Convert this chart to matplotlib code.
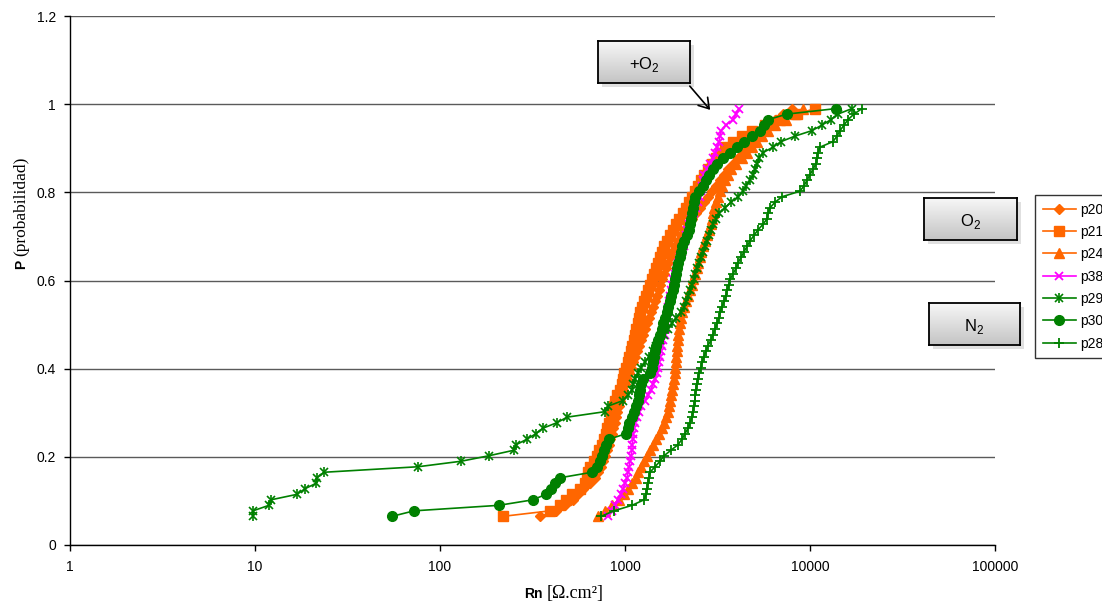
import matplotlib
matplotlib.use("Agg")
import matplotlib.pyplot as plt
import numpy as np
from matplotlib.colors import LinearSegmentedColormap
from matplotlib.legend_handler import HandlerTuple

plt.rcParams['font.family'] = ['Liberation Sans', 'DejaVu Sans']
plt.rcParams['mathtext.fontset'] = 'custom'
plt.rcParams['mathtext.rm'] = 'Liberation Sans'

# cumulative probability (same for every series)
prob = [0.065, 0.0775, 0.09, 0.1025, 0.115, 0.1275, 0.14, 0.1525, 0.165, 0.1775,
        0.19, 0.2025, 0.215, 0.2275, 0.24, 0.2525, 0.265, 0.2775, 0.29, 0.3025,
        0.315, 0.3275, 0.34, 0.3525, 0.365, 0.3775, 0.39, 0.4025, 0.415, 0.4275,
        0.44, 0.4525, 0.465, 0.4775, 0.49, 0.5025, 0.515, 0.5275, 0.54, 0.5525,
        0.565, 0.5775, 0.59, 0.6025, 0.615, 0.6275, 0.64, 0.6525, 0.665, 0.6775,
        0.69, 0.7025, 0.715, 0.7275, 0.74, 0.7525, 0.765, 0.7775, 0.79, 0.8025,
        0.815, 0.8275, 0.84, 0.8525, 0.865, 0.8775, 0.89, 0.9025, 0.915, 0.9275,
        0.94, 0.9525, 0.965, 0.9775, 0.99]

# Rn values [ohm.cm2]
p20 = [347, 424, 474, 523, 557, 593, 647, 688, 715, 742, 760, 780, 799, 819, 830,
       851, 861, 883, 894, 905, 928, 940, 951, 975, 1000, 1025, 1051, 1078, 1105, 1133,
       1161, 1190, 1220, 1251, 1283, 1315, 1348, 1382, 1417, 1453, 1489, 1527, 1546, 1585, 1625,
       1666, 1708, 1751, 1795, 1863, 1934, 2008, 2084, 2191, 2302, 2420, 2544, 2673, 2810, 2953,
       3104, 3262, 3429, 3602, 3833, 4081, 4343, 4621, 4918, 5234, 5570, 5929, 6463, 7134, 7976]
p21 = [219, 393, 445, 480, 517, 571, 608, 623, 631, 647, 680, 706, 724, 751, 770,
       789, 799, 819, 840, 851, 872, 883, 905, 940, 963, 975, 988, 1012, 1038, 1051,
       1078, 1091, 1119, 1133, 1147, 1176, 1190, 1205, 1236, 1267, 1299, 1331, 1365, 1399, 1434,
       1471, 1508, 1546, 1585, 1625, 1687, 1751, 1818, 1887, 1958, 2058, 2137, 2218, 2302, 2390,
       2481, 2575, 2673, 2810, 2953, 3104, 3262, 3471, 3833, 4289, 4857, 5710, 6878, 8497, 10640]
p24 = [715, 780, 851, 928, 988, 1038, 1091, 1147, 1176, 1220, 1267, 1315, 1365, 1417, 1471,
       1527, 1585, 1625, 1666, 1708, 1729, 1751, 1773, 1795, 1818, 1840, 1863, 1863, 1887, 1887,
       1910, 1910, 1934, 1934, 1958, 1983, 2008, 2033, 2084, 2137, 2191, 2246, 2302, 2331, 2390,
       2450, 2481, 2544, 2575, 2640, 2707, 2775, 2845, 2916, 2953, 2990, 3027, 3104, 3182, 3262,
       3344, 3471, 3602, 3739, 3981, 4289, 4564, 4857, 5169, 5501, 5929, 6463, 7407, 8288, 9151]
p38 = [809, 851, 883, 917, 951, 975, 1000, 1025, 1038, 1051, 1064, 1078, 1091, 1091, 1105,
       1105, 1119, 1133, 1161, 1190, 1220, 1283, 1331, 1382, 1417, 1453, 1490, 1508, 1527, 1546,
       1566, 1585, 1605, 1646, 1666, 1687, 1687, 1708, 1708, 1729, 1751, 1773, 1795, 1818, 1864,
       1911, 1934, 1984, 2033, 2085, 2110, 2138, 2165, 2218, 2274, 2360, 2419, 2480, 2544, 2575,
       2608, 2640, 2673, 2775, 2880, 2990, 3066, 3143, 3222, 3262, 3303, 3515, 3835, 3981, 4133]
p29 = [9.75, 9.75, 11.9, 12.2, 16.9, 18.6, 21.4, 21.6, 23.6, 76, 130, 184, 251, 258, 295,
       330, 360, 429, 486, 780, 809, 973, 1038, 1091, 1104, 1133, 1176, 1220, 1283, 1348,
       1417, 1470, 1546, 1625, 1708, 1795, 1888, 2008, 2085, 2138, 2191, 2246, 2302, 2360, 2389,
       2449, 2512, 2575, 2640, 2706, 2775, 2845, 2917, 2990, 3104, 3222, 3467, 3738, 4081, 4350,
       4508, 4740, 4920, 5045, 5173, 5305, 5571, 6310, 6970, 8290, 10250, 11600, 12990, 14160, 16860]
p30 = [55.0, 72.4, 208, 318, 374, 398, 418, 445, 663, 706, 733, 751, 770, 789, 820,
       1012, 1038, 1051, 1091, 1119, 1147, 1176, 1190, 1205, 1220, 1251, 1365, 1399, 1417, 1434,
       1453, 1470, 1508, 1546, 1585, 1605, 1646, 1687, 1708, 1751, 1773, 1818, 1840, 1864, 1888,
       1911, 1934, 1984, 2008, 2033, 2085, 2165, 2218, 2246, 2274, 2302, 2331, 2360, 2389, 2512,
       2640, 2741, 2845, 2990, 3143, 3382, 3695, 4032, 4398, 4857, 5370, 5649, 5929, 7521, 13830]
p28 = [742, 872, 1091, 1267, 1299, 1315, 1331, 1348, 1365, 1453, 1546, 1625, 1773, 1934, 2033,
       2110, 2191, 2246, 2302, 2331, 2360, 2389, 2389, 2419, 2449, 2480, 2512, 2575, 2608, 2673,
       2741, 2810, 2917, 2990, 3066, 3143, 3222, 3262, 3344, 3429, 3515, 3559, 3649, 3695, 3835,
       3981, 4081, 4237, 4398, 4565, 4740, 4982, 5236, 5571, 5856, 5929, 6078, 6469, 7059, 8830,
       9281, 9634, 10000, 10380, 10770, 10910, 11050, 11320, 13310, 13990, 14530, 15270, 16050, 17290, 19100]

x_ticks = [1, 10, 100, 1000, 10000, 100000]
x_tick_labels = ['1', '10', '100', '1000', '10000', '100000']
y_ticks = [0, 0.2, 0.4, 0.6, 0.8, 1.0, 1.2]
y_tick_labels = ['0', '0.2', '0.4', '0.6', '0.8', '1', '1.2']

W, H = 1102, 605
fig = plt.figure(figsize=(W / 100, H / 100), dpi=100)
ax = fig.add_axes([70 / W, 60 / H, 925 / W, 529 / H])

orange = '#FF6600'
green = '#008000'
magenta = '#FF00FF'

h20, = ax.plot(p20, prob, color=orange, lw=1.2, marker='D', ms=5.5, label='p20')
h21, = ax.plot(p21, prob, color=orange, lw=1.2, marker='s', ms=6.5, label='p21')
h24, = ax.plot(p24, prob, color=orange, lw=1.2, marker='^', ms=7.5, label='p24')
h38, = ax.plot(p38, prob, color=magenta, lw=1.2, marker='x', ms=6, mew=1.3, label='p38')
h29a, = ax.plot(p29, prob, color=green, lw=1.2, marker='x', ms=6, mew=1.2)
h29b, = ax.plot(p29, prob, color=green, lw=0, marker='|', ms=7, mew=1.2)
h30, = ax.plot(p30, prob, color=green, lw=1.2, marker='o', ms=7, label='p30')
h28, = ax.plot(p28, prob, color=green, lw=1.2, marker='+', ms=7, mew=1.3, label='p28')

ax.set_xscale('log')
ax.set_xlim(1, 100000)
ax.set_ylim(0, 1.2)
ax.set_xticks(x_ticks)
ax.set_xticklabels(x_tick_labels)
ax.xaxis.set_minor_locator(matplotlib.ticker.NullLocator())
ax.set_yticks(y_ticks)
ax.set_yticklabels(y_tick_labels)
ax.tick_params(axis='both', direction='out', length=4, width=1, labelsize=10, color='black')
ax.tick_params(axis='y', pad=6)
ax.tick_params(axis='x', pad=7)
ax.yaxis.grid(True, color='#5a5a5a', lw=1.0)
ax.set_axisbelow(True)
for s in ['top', 'right']:
    ax.spines[s].set_visible(False)
for s in ['left', 'bottom']:
    ax.spines[s].set_color('black')
    ax.spines[s].set_linewidth(1.0)

# axis labels: bold sans part + serif part
fig.text(543 / W, 1 - 598 / H, 'Rn', fontweight='bold', fontsize=10, ha='right', va='baseline')
fig.text(547 / W, 1 - 598 / H, '[Ω.cm²]', family='Liberation Serif', fontsize=13, ha='left', va='baseline')
fig.text(21 / W, 1 - 260 / H, 'P', fontweight='bold', fontsize=10, rotation=90, ha='center', va='top')
fig.text(21 / W, 1 - 256 / H, '(probabilidad)', family='Liberation Serif', fontsize=12.5,
         rotation=90, ha='center', va='bottom')

leg = fig.legend([h20, h21, h24, h38, (h29a, h29b), h30, h28],
                 ['p20', 'p21', 'p24', 'p38', 'p29', 'p30', 'p28'],
                 handler_map={tuple: HandlerTuple(ndivide=1)},
                 loc='upper left', bbox_to_anchor=(1035 / W, 1 - 195 / H),
                 bbox_transform=fig.transFigure, fontsize=10, frameon=True,
                 fancybox=False, edgecolor='black', borderaxespad=0, borderpad=0.55,
                 handlelength=2.4, handletextpad=0.3, labelspacing=0.6)
leg.get_frame().set_linewidth(1.0)

# annotation boxes with gradient and shadow
grad_cmap = LinearSegmentedColormap.from_list('g', ['#f7f7f7', '#c4c4c4'])
grad = np.linspace(0, 1, 50).reshape(-1, 1)


def note_box(x0, y0, w, h, text):
    sh = fig.add_axes([(x0 + 4) / W, 1 - (y0 + h + 4) / H, w / W, h / H])
    sh.set_facecolor('#c8c8c8')
    sh.patch.set_alpha(0.55)
    sh.set_xticks([]); sh.set_yticks([])
    for s in sh.spines.values():
        s.set_visible(False)
    bx = fig.add_axes([x0 / W, 1 - (y0 + h) / H, w / W, h / H])
    bx.imshow(grad, aspect='auto', cmap=grad_cmap, extent=[0, 1, 0, 1])
    bx.set_xticks([]); bx.set_yticks([])
    for s in bx.spines.values():
        s.set_linewidth(1.3)
        s.set_color('black')
    bx.text(0.5, 0.45, text, ha='center', va='center', fontsize=12, transform=bx.transAxes)
    return bx


note_box(598, 41, 92, 42, '+O$_2$')
note_box(924, 198, 93, 42, 'O$_2$')
note_box(929, 303, 91, 42, 'N$_2$')

fig.add_artist(matplotlib.patches.FancyArrowPatch(
    (688 / W, 1 - 84 / H), (712 / W, 1 - 112 / H), transform=fig.transFigure,
    arrowstyle='->,head_length=7,head_width=4.5', color='black', lw=1.2))

fig.savefig('out.png', dpi=100)
